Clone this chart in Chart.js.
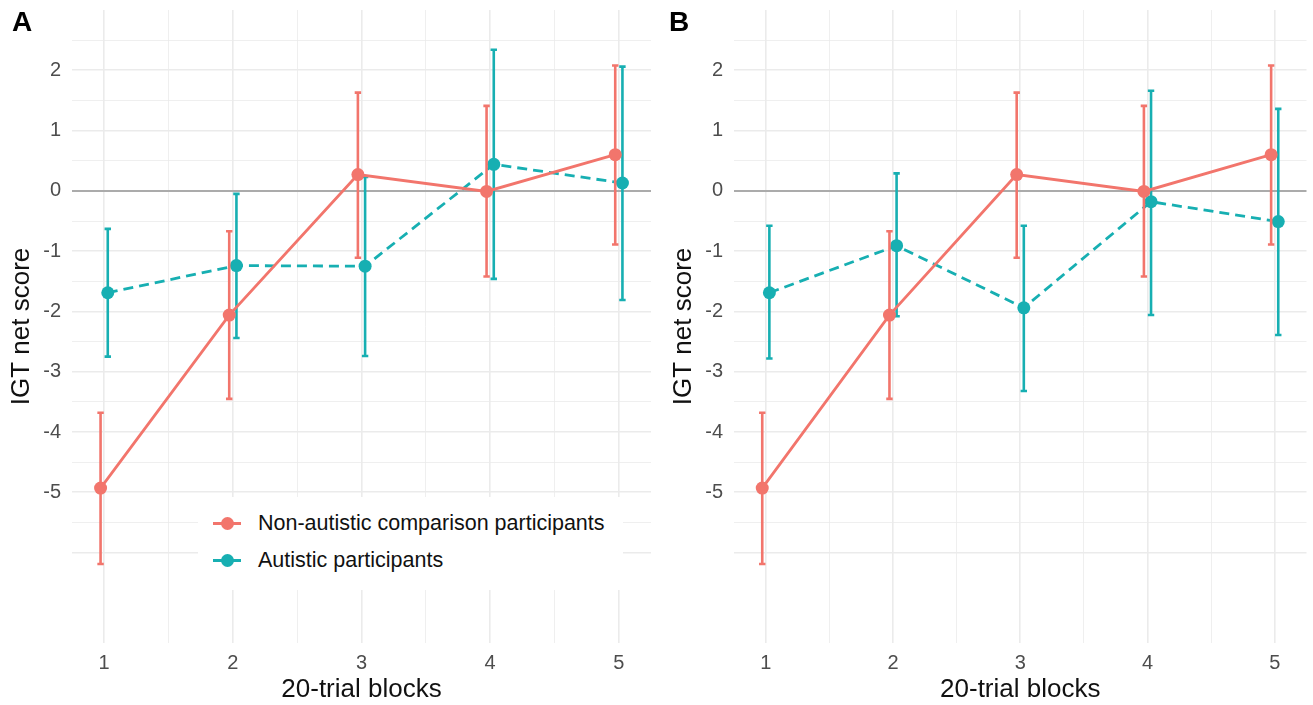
<!DOCTYPE html>
<html>
<head>
<meta charset="utf-8">
<script src="https://cdn.jsdelivr.net/npm/chart.js@4.4.1/dist/chart.umd.min.js"></script>
<style>
  body { margin: 0; background: #fff; }
  #wrap { position: relative; width: 1313px; height: 705px; overflow: hidden; font-family: "Liberation Sans", Arial, sans-serif; }
  canvas { position: absolute; top: 0; }
  #chartA { left: 0; }
  #chartB { left: 662px; }
  .tag { position: absolute; top: 8px; font-size: 28px; font-weight: bold; line-height: 1; color: #000; }
  #legend { position: absolute; left: 198px; top: 497px; width: 425px; height: 93px; background: #fff; }
  .row { position: absolute; left: 0; height: 37px; line-height: 37px; font-size: 21.5px; color: #111; padding-left: 60px; white-space: nowrap; }
  .key { position: absolute; left: 15px; top: 17px; width: 28px; height: 3px; }
  .key::after { content: ''; position: absolute; left: 7.5px; top: -5px; width: 13px; height: 13px; border-radius: 50%; background: inherit; }
</style>
</head>
<body>
<div id="wrap">
  <canvas id="chartA" width="662" height="705"></canvas>
  <canvas id="chartB" width="651" height="705"></canvas>
  <div class="tag" style="left:12px">A</div>
  <div class="tag" style="left:669px">B</div>
  <div id="legend">
    <div class="row" style="top:7.5px"><span class="key" style="background:#F2756C"></span>Non-autistic comparison participants</div>
    <div class="row" style="top:44.5px"><span class="key" style="background:#17AFB2"></span>Autistic participants</div>
  </div>
</div>
<script>
const blocks = [1, 2, 3, 4, 5]
const yTickLabels = [-5, -4, -3, -2, -1, 0, 1, 2]

// non-autistic comparison group, same in both panels
const nonAutMean = [-4.93, -2.06, 0.27, -0.01, 0.60]
const nonAutLow = [-6.19, -3.45, -1.11, -1.42, -0.89]
const nonAutHigh = [-3.68, -0.67, 1.63, 1.41, 2.08]

// autistic group, panel A
const autMeanA = [-1.69, -1.24, -1.25, 0.44, 0.13]
const autLowA = [-2.75, -2.44, -2.74, -1.46, -1.81]
const autHighA = [-0.63, -0.05, 0.23, 2.34, 2.06]

// autistic group, panel B
const autMeanB = [-1.69, -0.91, -1.94, -0.18, -0.51]
const autLowB = [-2.78, -2.08, -3.32, -2.06, -2.39]
const autHighB = [-0.58, 0.29, -0.58, 1.66, 1.36]

const RED = '#F2756C'
const TEAL = '#17AFB2'
const dodge = 0.028

Chart.defaults.font.family = '"Liberation Sans", Arial, sans-serif'

// grid positions: majors on whole numbers, minors on halves
const xGrid = []
for (let v = 1; v <= 5; v += 0.5) xGrid.push(v)
const yGrid = []
for (let v = -6; v <= 2.5; v += 0.5) yGrid.push(v)

const errorBars = {
    id: 'errorBars',
    beforeDatasetDraw(chart, args) {
        const ds = chart.data.datasets[args.index]
        if (!ds.low) return
        const {ctx, scales: {x, y}} = chart
        ctx.save()
        ctx.strokeStyle = ds.borderColor
        ctx.lineWidth = 2.6
        ds.data.forEach((p, i) => {
            const px = x.getPixelForValue(p.x)
            const top = y.getPixelForValue(ds.high[i])
            const bot = y.getPixelForValue(ds.low[i])
            ctx.beginPath()
            ctx.moveTo(px, top)
            ctx.lineTo(px, bot)
            ctx.moveTo(px - 3.2, top)
            ctx.lineTo(px + 3.2, top)
            ctx.moveTo(px - 3.2, bot)
            ctx.lineTo(px + 3.2, bot)
            ctx.stroke()
        })
        ctx.restore()
    }
}

function series(mean, low, high, shift, color, dash){
    return {
        data: blocks.map((b, i) => ({x: b + shift, y: mean[i]})),
        low: low,
        high: high,
        borderColor: color,
        backgroundColor: color,
        pointBackgroundColor: color,
        pointBorderWidth: 0,
        pointRadius: 6.5,
        borderWidth: 2.8,
        borderDash: dash,
        tension: 0,
        fill: false
    }
}

function build(id, mean, low, high, padRight){
    new Chart(document.getElementById(id), {
        type: 'line',
        data: {
            datasets: [
                series(nonAutMean, nonAutLow, nonAutHigh, -dodge, RED, []),
                series(mean, low, high, dodge, TEAL, [10, 6])
            ]
        },
        options: {
            responsive: false,
            animation: false,
            layout: {padding: {top: 10, right: padRight, bottom: 0, left: 0}},
            plugins: {legend: {display: false}, tooltip: {enabled: false}},
            scales: {
                x: {
                    type: 'linear',
                    min: 0.75,
                    max: 5.25,
                    afterBuildTicks: s => { s.ticks = xGrid.map(v => ({value: v})) },
                    afterFit: s => {
                        s.height = 62
                        s.paddingLeft = 0
                        s.paddingRight = 0
                    },
                    border: {display: false},
                    grid: {
                        drawTicks: false,
                        color: '#EBEBEB',
                        lineWidth: c => Number.isInteger(c.tick.value) ? 1.6 : 0.8
                    },
                    ticks: {
                        autoSkip: false,
                        maxRotation: 0,
                        padding: 8,
                        color: '#4D4D4D',
                        font: {size: 20},
                        callback: v => Number.isInteger(v) ? String(v) : ''
                    },
                    title: {
                        display: true,
                        text: '20-trial blocks',
                        color: '#111',
                        font: {size: 26, lineHeight: 1.2},
                        padding: {top: 0, bottom: 0}
                    }
                },
                y: {
                    min: -7.5,
                    max: 3,
                    afterBuildTicks: s => { s.ticks = yGrid.map(v => ({value: v})) },
                    afterFit: s => {
                        s.width = 72
                        s.paddingTop = 0
                        s.paddingBottom = 0
                    },
                    border: {display: false},
                    grid: {
                        drawTicks: false,
                        color: c => c.tick.value === 0 ? '#ABABAB' : '#EBEBEB',
                        lineWidth: c => c.tick.value === 0 ? 2 : (Number.isInteger(c.tick.value) ? 1.6 : 0.8)
                    },
                    ticks: {
                        autoSkip: false,
                        padding: 11,
                        color: '#4D4D4D',
                        font: {size: 20},
                        callback: v => yTickLabels.includes(v) ? String(v) : ''
                    },
                    title: {
                        display: true,
                        text: 'IGT net score',
                        color: '#111',
                        font: {size: 26, lineHeight: 1.2},
                        padding: {top: 6, bottom: 0}
                    }
                }
            }
        },
        plugins: [errorBars]
    })
}

build('chartA', autMeanA, autLowA, autHighA, 11)
build('chartB', autMeanB, autLowB, autHighB, 0)
</script>
</body>
</html>
